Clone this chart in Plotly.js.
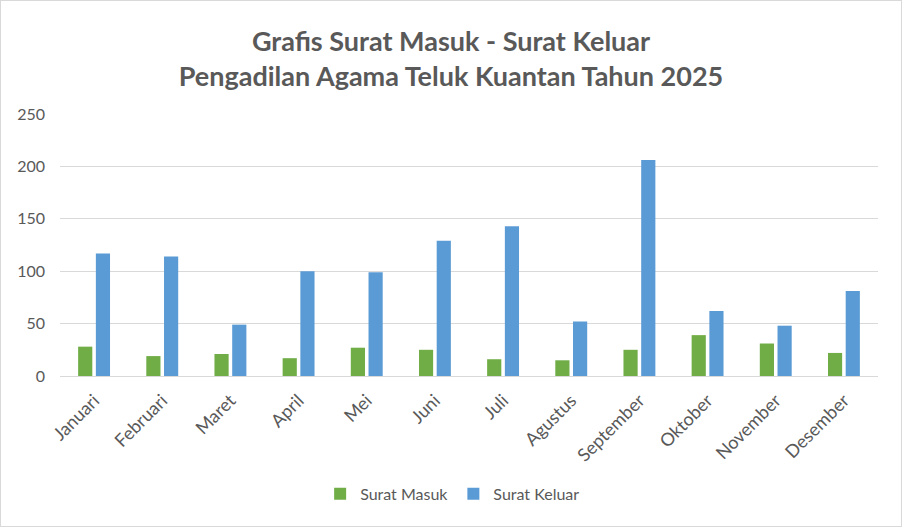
<!DOCTYPE html>
<html>
<head>
<meta charset="utf-8">
<script src="https://cdn.plot.ly/plotly-3.0.1.min.js"></script>
<style>
html,body{margin:0;padding:0;background:#fff;}
#chart{width:902px;height:527px;box-sizing:border-box;border:1px solid #D9D9D9;}
</style>
</head>
<body>
<div id="chart"></div>
<script>
const months = ["Januari","Februari","Maret","April","Mei","Juni","Juli","Agustus","September","Oktober","November","Desember"];
const suratMasuk = [28, 19, 21, 17, 27, 25, 16, 15, 25, 39, 31, 22];
const suratKeluar = [117, 114, 49, 100, 99, 129, 143, 52, 206, 62, 48, 81];
const titleLines = ["Grafis Surat Masuk - Surat Keluar", "Pengadilan Agama Teluk Kuantan Tahun 2025"];

const font = "Lato, 'Open Sans', sans-serif";
const traces = [
  {type:"bar", name:"Surat Masuk", x:months, y:suratMasuk, marker:{color:"#70AD47"}},
  {type:"bar", name:"Surat Keluar", x:months, y:suratKeluar, marker:{color:"#5B9BD5"}}
];
const layout = {
  width:900, height:525,
  paper_bgcolor:"#fff", plot_bgcolor:"#fff",
  margin:{l:59, r:23, t:113, b:150, autoexpand:false},
  font:{family:font, color:"#595959", size:16},
  title:{text:titleLines.join("<br>"), font:{family:font, size:27, color:"#595959", weight:"bold"},
         x:0.5, xanchor:"center", y:0.905, yanchor:"top", yref:"container"},
  barmode:"group", bargap:0.48, bargroupgap:0.2,
  xaxis:{tickangle:-45, tickfont:{size:18, color:"#595959"}, showline:true, linecolor:"#D9D9D9", linewidth:1, ticks:"",
         ticklabelstandoff:6, automargin:false},
  yaxis:{range:[0,250], dtick:50, gridcolor:"#D9D9D9", gridwidth:1, zeroline:false, showline:false, ticks:"",
         tickfont:{size:16, color:"#595959"}, ticklabelstandoff:14, automargin:false},
  legend:{orientation:"h", x:0.48, xanchor:"center", y:-0.385, yanchor:"top", font:{size:16, color:"#595959"},
          itemwidth:30, tracegroupgap:0},
  showlegend:true
};
Plotly.newPlot("chart", traces, layout, {displayModeBar:false, staticPlot:true});
</script>
</body>
</html>
